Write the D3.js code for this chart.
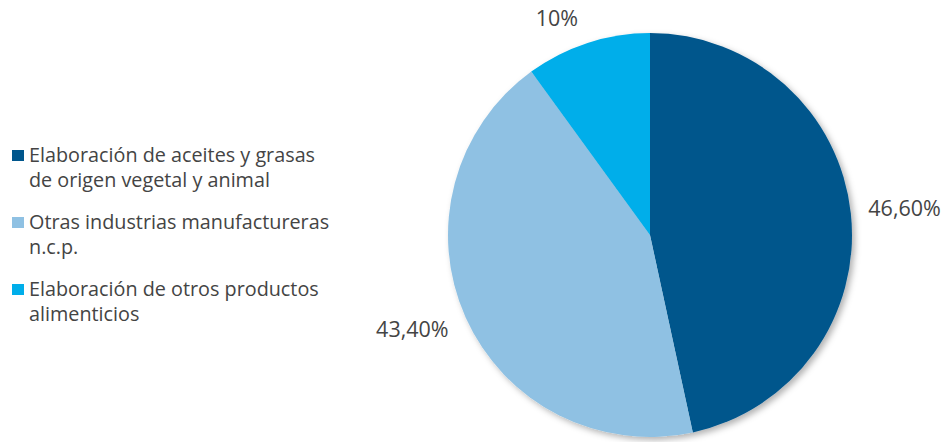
<!DOCTYPE html>
<html>
<head>
<meta charset="utf-8">
<script src="https://cdn.jsdelivr.net/npm/d3@7"></script>
<style>
  body { margin: 0; background: #fff; }
  text { font-family: "Open Sans", Lato, sans-serif; fill: #444; }
</style>
</head>
<body>
<div id="chart"></div>
<script>
// data
var categories = [
  ["Elaboración de aceites y grasas", "de origen vegetal y animal"],
  ["Otras industrias manufactureras", "n.c.p."],
  ["Elaboración de otros productos", "alimenticios"]
];
var values = [46.6, 43.4, 10];
var valueLabels = ["46,60%", "43,40%", "10%"];

var colors = ["#00568c", "#8fc1e3", "#00aeea"];

var width = 945, height = 442;
var cx = 650, cy = 235, radius = 202;

var svg = d3.select("#chart").append("svg")
  .attr("width", width)
  .attr("height", height);

// soft shadow under the pie
var defs = svg.append("defs");
var f = defs.append("filter").attr("id", "shadow")
  .attr("x", "-10%").attr("y", "-10%").attr("width", "130%").attr("height", "130%");
f.append("feDropShadow")
  .attr("dx", 3).attr("dy", 3)
  .attr("stdDeviation", 3)
  .attr("flood-color", "#000")
  .attr("flood-opacity", 0.3);

var pie = d3.pie().sort(null).value(function (d) { return d; });
var arc = d3.arc().innerRadius(0).outerRadius(radius);
var labelArc = d3.arc().innerRadius(256).outerRadius(256);

var g = svg.append("g")
  .attr("transform", "translate(" + cx + "," + cy + ")");

var arcs = pie(values);

g.append("g").attr("filter", "url(#shadow)")
  .selectAll("path")
  .data(arcs)
  .enter().append("path")
  .attr("d", arc)
  .attr("fill", function (d, i) { return colors[i]; });

// label tweaks (pixels)
var labelShift = [[0, 1], [-4, -10], [-14, 27]];

g.selectAll(".lbl")
  .data(arcs)
  .enter().append("text")
  .attr("class", "lbl")
  .attr("transform", function (d, i) {
    var c = labelArc.centroid(d);
    return "translate(" + (c[0] + labelShift[i][0]) + "," + (c[1] + labelShift[i][1]) + ")";
  })
  .attr("text-anchor", "middle")
  .attr("dy", "0.35em")
  .style("font-size", "21.5px")
  .text(function (d, i) { return valueLabels[i]; });

// legend
var legend = svg.append("g").attr("transform", "translate(12,150)");
var rowY = d3.scalePoint().domain(d3.range(categories.length)).range([0, 134]);

var item = legend.selectAll(".item")
  .data(categories)
  .enter().append("g")
  .attr("class", "item")
  .attr("transform", function (d, i) { return "translate(0," + rowY(i) + ")"; });

item.append("rect")
  .attr("width", 12).attr("height", 11)
  .attr("fill", function (d, i) { return colors[i]; });

item.append("text")
  .attr("x", 17)
  .attr("y", 12)
  .style("font-size", "19.8px")
  .selectAll("tspan")
  .data(function (d) { return d; })
  .enter().append("tspan")
  .attr("x", 17)
  .attr("dy", function (d, j) { return j === 0 ? 0 : 25; })
  .text(function (d) { return d; });
</script>
</body>
</html>
